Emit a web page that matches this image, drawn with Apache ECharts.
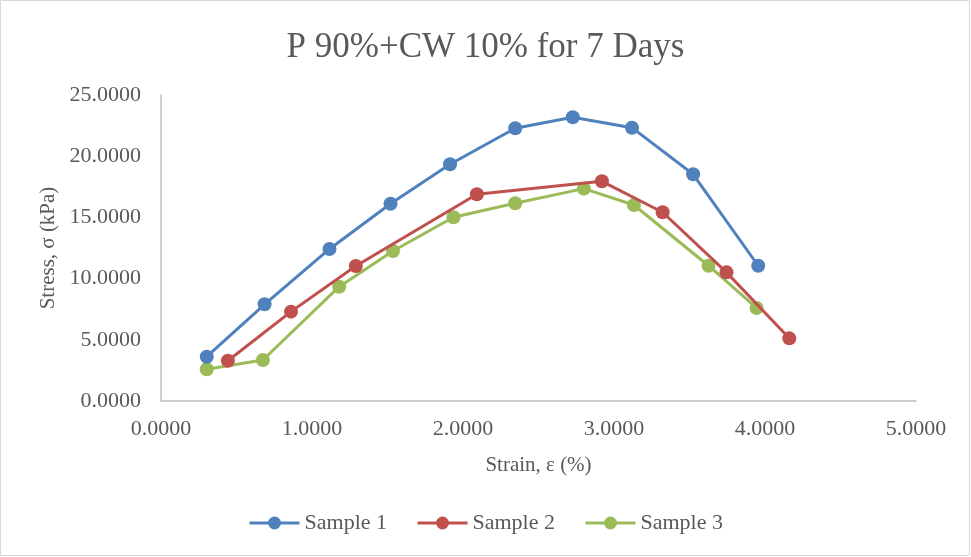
<!DOCTYPE html>
<html><head><meta charset="utf-8">
<script src="https://cdn.jsdelivr.net/npm/echarts@6/dist/echarts.min.js"></script>
<style>html,body{margin:0;padding:0;background:#fff}#c{width:971px;height:557px}</style>
</head><body><div id="c"></div>
<script>
const titleText = "P 90%+CW 10% for 7 Days";
const xName = "Strain, ε (%)";
const yName = "Stress, σ (kPa)";
const seriesNames = ["Sample 1", "Sample 2", "Sample 3"];
const s1x = [0.303, 0.686, 1.116, 1.52, 1.914, 2.346, 2.727, 3.119, 3.524, 3.955];
const s1y = [3.62, 7.90, 12.42, 16.12, 19.34, 22.28, 23.18, 22.33, 18.52, 11.05];
const s2x = [0.443, 0.861, 1.29, 2.092, 2.92, 3.322, 3.745, 4.161];
const s2y = [3.29, 7.30, 11.03, 16.89, 17.95, 15.42, 10.51, 5.12];
const s3x = [0.303, 0.675, 1.18, 1.536, 1.937, 2.346, 2.80, 3.132, 3.626, 3.944];
const s3y = [2.59, 3.35, 9.34, 12.25, 15.01, 16.15, 17.35, 16.01, 11.05, 7.60];
const colors = ["#4f81bd", "#c0504d", "#9bbb59"];

const zip = (a, b) => a.map((v, i) => [v, b[i]]);
const dataSets = [zip(s1x, s1y), zip(s2x, s2y), zip(s3x, s3y)];
const font = "'Liberation Serif','Times New Roman',serif";
const chart = echarts.init(document.getElementById('c'));
chart.setOption({
  animation: false,
  backgroundColor: '#fff',
  graphic: [{type: 'rect', shape: {x: 0.5, y: 0.5, width: 969, height: 555}, style: {fill: 'none', stroke: '#d9d9d9', lineWidth: 1}}],
  title: {text: titleText, left: 'center', top: 25, textStyle: {fontFamily: font, fontSize: 35, fontWeight: 'normal', color: '#595959'}},
  legend: {top: 507, left: 'center', itemWidth: 50, itemHeight: 16, itemGap: 29,
    lineStyle: {width: 3},
    textStyle: {fontFamily: font, fontSize: 22, color: '#595959'}, data: seriesNames},
  grid: {left: 161, right: 55, top: 95, bottom: 156},
  xAxis: {type: 'value', min: 0, max: 5, interval: 1, name: xName, nameLocation: 'middle', nameGap: 54,
    nameTextStyle: {fontFamily: font, fontSize: 21, color: '#595959'},
    axisLine: {show: true, lineStyle: {color: '#bfbfbf', width: 1.5}}, axisTick: {show: false}, splitLine: {show: false},
    axisLabel: {fontFamily: font, fontSize: 22, color: '#595959', margin: 17, formatter: v => v.toFixed(4)}},
  yAxis: {type: 'value', min: 0, max: 25, interval: 5, name: yName, nameLocation: 'middle', nameGap: 97,
    nameTextStyle: {fontFamily: font, fontSize: 21, color: '#595959'},
    axisLine: {show: true, lineStyle: {color: '#bfbfbf', width: 1.5}}, axisTick: {show: false}, splitLine: {show: false},
    axisLabel: {fontFamily: font, fontSize: 22, color: '#595959', margin: 20, formatter: v => v.toFixed(4)}},
  series: seriesNames.map((n, i) => ({
    name: n, type: 'line', data: dataSets[i], symbol: 'circle', symbolSize: 14,
    lineStyle: {color: colors[i], width: 3}, itemStyle: {color: colors[i]}, z: 3 - i
  }))
});
</script></body></html>
